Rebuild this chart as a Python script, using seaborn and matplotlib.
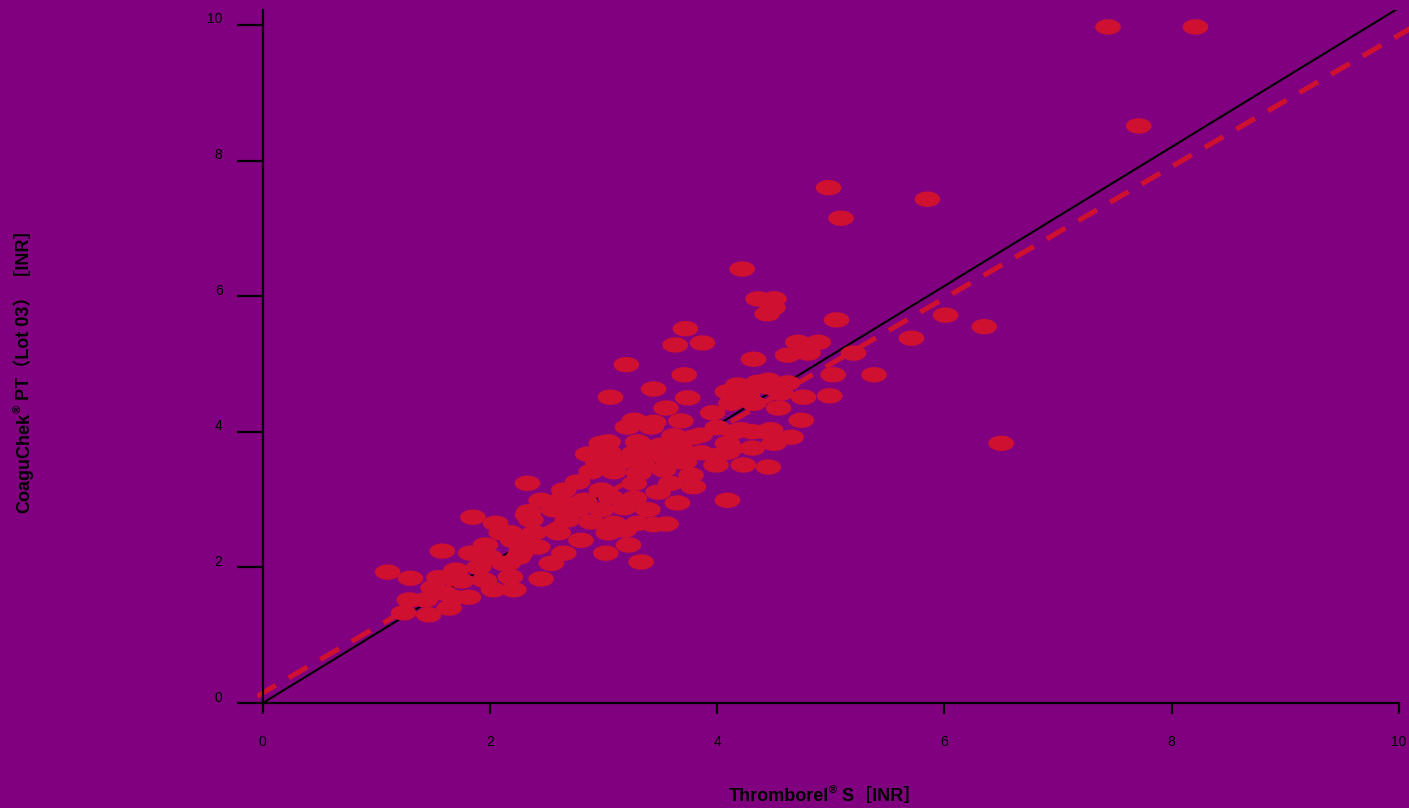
import numpy as np
import pandas as pd
import matplotlib
matplotlib.use("Agg")
import matplotlib.pyplot as plt
from matplotlib.path import Path
from matplotlib.transforms import ScaledTranslation
import seaborn as sns

# ---------------- data ----------------
thromborel = [
    1.10, 1.30, 1.58, 1.85, 2.05, 1.70, 1.50, 1.29, 1.24, 1.46, 1.64, 1.81, 1.83, 1.96, 2.10,
    2.21, 2.03, 1.95, 2.18, 2.12, 2.33, 2.45, 1.68, 1.43, 1.75, 1.90, 2.00, 1.60, 2.25, 2.30,
    2.20, 1.55,
    2.33, 2.86, 2.98, 3.05, 3.21, 3.30, 3.42, 3.27, 3.44, 2.89, 3.09, 2.77, 3.27, 2.65, 2.98,
    3.48, 2.45, 2.62, 2.83, 3.06, 3.27, 2.34, 2.56, 2.77, 2.98, 3.18, 3.39, 2.36, 2.68, 2.89,
    3.09, 3.30, 3.44, 2.18, 2.39, 2.60, 2.80, 3.04, 3.18, 2.42, 2.65, 3.22, 3.02, 3.33, 2.27,
    2.16, 2.54,
    3.20, 3.71, 3.44, 3.06, 3.74, 4.18, 4.36, 4.09, 4.27, 4.45, 4.12, 4.32, 3.55, 3.96, 3.27,
    3.44, 3.68, 4.00, 4.15, 4.31, 4.43, 3.62, 3.79, 3.04, 4.09, 3.68, 3.86, 4.12, 4.31, 3.27,
    3.99, 4.23, 4.45, 3.71, 3.53, 3.77, 3.31, 3.59, 3.79, 3.65, 4.09,
    3.87, 4.71, 4.89, 4.62, 4.80, 4.32, 5.02, 4.99, 4.45, 4.62, 4.56, 4.76, 4.54, 4.74, 4.21,
    4.47, 4.65, 4.50, 4.09, 4.00, 3.72, 3.63,
    3.55, 3.15, 3.35, 2.95, 3.50, 3.55, 3.85,
    4.22, 4.36, 4.50, 4.49, 4.44, 4.98, 5.09, 5.85, 5.05, 5.20, 5.38, 5.71, 6.01, 6.35, 6.50,
    7.44, 8.21, 7.71,
]
coaguchek = [
    1.93, 1.84, 2.24, 2.74, 2.65, 1.96, 1.70, 1.52, 1.33, 1.30, 1.40, 1.56, 2.21, 2.33, 2.51,
    1.67, 1.67, 1.81, 1.86, 2.06, 2.77, 1.83, 1.56, 1.52, 1.80, 2.00, 2.15, 1.62, 2.15, 2.35,
    2.40, 1.85,
    3.24, 3.67, 3.83, 3.69, 4.07, 3.85, 4.07, 3.69, 3.69, 3.41, 3.41, 3.26, 3.24, 3.14, 3.14,
    3.11, 2.99, 2.99, 2.99, 3.04, 3.02, 2.82, 2.85, 2.85, 2.85, 2.88, 2.85, 2.70, 2.70, 2.67,
    2.65, 2.65, 2.63, 2.51, 2.51, 2.51, 2.40, 2.51, 2.55, 2.30, 2.21, 2.33, 2.21, 2.08, 2.21,
    2.06, 2.06,
    4.99, 4.84, 4.63, 4.51, 4.50, 4.69, 4.73, 4.59, 4.57, 4.66, 4.42, 4.42, 4.35, 4.28, 4.17,
    4.14, 4.16, 4.06, 4.00, 4.00, 4.00, 3.94, 3.92, 3.85, 3.83, 3.75, 3.69, 3.75, 3.76, 3.63,
    3.51, 3.51, 3.48, 3.55, 3.44, 3.36, 3.39, 3.24, 3.19, 2.95, 2.99,
    5.31, 5.32, 5.32, 5.13, 5.16, 5.07, 4.84, 4.53, 4.76, 4.72, 4.57, 4.51, 4.35, 4.17, 4.03,
    4.03, 3.92, 3.83, 3.70, 3.65, 5.52, 5.28,
    2.64, 3.55, 3.50, 3.55, 3.80, 3.60, 3.95,
    6.40, 5.96, 5.96, 5.83, 5.74, 7.60, 7.15, 7.43, 5.65, 5.16, 4.84, 5.38, 5.72, 5.55, 3.83,
    9.97, 9.97, 8.51,
]

# reference lines (slope, intercept)
identity_line = {"slope": 1.025, "intercept": 0.0, "x": [0.0, 10.0]}
fit_line = {"slope": 0.97, "intercept": 0.15, "x": [-0.05, 10.1]}

x_ticks = [0, 2, 4, 6, 8, 10]
y_ticks = [0, 2, 4, 6, 8, 10]

x_label_parts = ["Thromborel", "®", " S［INR］"]
y_label_parts = ["CoaguChek", "®", " PT（Lot 03）［INR］"]

# ---------------- style ----------------
BG = "#800080"
RED = "#D01030"
FAMILY = ["Liberation Sans", "Noto Sans CJK SC", "DejaVu Sans"]
plt.rcParams["font.family"] = FAMILY

df = pd.DataFrame({"thromborel": thromborel, "coaguchek": coaguchek})

W, H = 1409, 808
fig = plt.figure(figsize=(W / 100, H / 100), dpi=100, facecolor=BG)
ax = fig.add_axes([257.1 / W, 1 - 703 / H, 1152 / W, 693 / H])
ax.set_facecolor(BG)

# ellipse marker
t = np.linspace(0, 2 * np.pi, 80)
ell = Path(np.column_stack([np.cos(t), 0.6 * np.sin(t)]), closed=True)

# lines
xs = np.array(identity_line["x"])
ax.plot(xs, identity_line["slope"] * xs + identity_line["intercept"],
        color="black", lw=1.5, zorder=2, solid_capstyle="butt")
xf = np.array(fit_line["x"])
ax.plot(xf, fit_line["slope"] * xf + fit_line["intercept"],
        color=RED, lw=3.6, dashes=(4.3, 3.0), zorder=2, dash_capstyle="butt")

sns.scatterplot(data=df, x="thromborel", y="coaguchek", ax=ax, color=RED,
                marker=ell, s=340, linewidth=0, edgecolor="none", zorder=3,
                legend=False)

ax.set_xlim(-0.05, 10.09)
ax.set_ylim(0, 10.22)
ax.set_xticks(x_ticks)
ax.set_yticks(y_ticks)
ax.set_xticklabels([str(v) for v in x_ticks])
ax.set_yticklabels([str(v) for v in y_ticks])

for s in ["top", "right"]:
    ax.spines[s].set_visible(False)
ax.spines["left"].set_position(("data", 0))
ax.spines["bottom"].set_bounds(0, 10)
for s in ["left", "bottom"]:
    ax.spines[s].set_linewidth(1.6)
    ax.spines[s].set_color("black")

ax.tick_params(axis="x", direction="out", length=8, width=1.6, pad=15,
               labelsize=10, colors="black")
ax.tick_params(axis="y", direction="out", length=19, width=1.6, pad=10,
               labelsize=10, colors="black")
off = ScaledTranslation(0, 7 / 100, fig.dpi_scale_trans)
for lab in ax.get_yticklabels():
    lab.set_transform(lab.get_transform() + off)

ax.set_xlabel("")
ax.set_ylabel("")


def rich_label(parts, center_px, base_px, rotation, size=13):
    """parts: main text, superscript, rest. Positions in figure pixels (from top-left)."""
    sizes = [size, size * 0.62, size]
    raises = [0, size * 0.42, 0]  # points
    texts = []
    for p, fs in zip(parts, sizes):
        texts.append(fig.text(0, 0, p, fontsize=fs, fontweight="bold", color="black",
                              family=FAMILY, rotation=rotation, rotation_mode="anchor",
                              ha="left", va="baseline"))
    renderer = fig.canvas.get_renderer()
    lengths = []
    for tx in texts:
        e = tx.get_window_extent(renderer)
        lengths.append(e.width if rotation == 0 else e.height)
    total = sum(lengths)
    pos = center_px - total / 2 if rotation == 0 else center_px + total / 2
    for tx, L, r in zip(texts, lengths, raises):
        rpx = r * 100 / 72
        if rotation == 0:
            tx.set_position((pos / W, 1 - (base_px - rpx) / H))
            pos += L
        else:
            tx.set_position(((base_px - rpx) / W, 1 - pos / H))
            pos -= L


rich_label(x_label_parts, 825, 801, 0)
rich_label(y_label_parts, 367, 29, 90)

fig.savefig("out.png", dpi=100, facecolor=BG)
